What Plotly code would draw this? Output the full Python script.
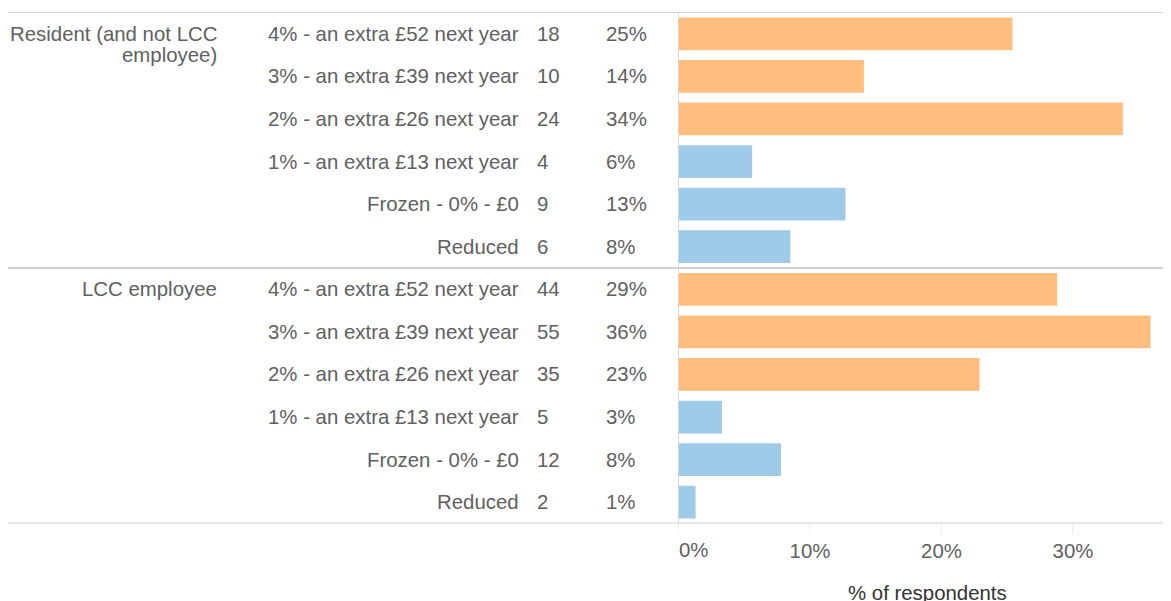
import plotly.graph_objects as go

groups = ["Resident (and not LCC employee)", "LCC employee"]
group_label_lines = [["Resident (and not LCC", "employee)"], ["LCC employee"]]
items = ["4% - an extra £52 next year", "3% - an extra £39 next year",
         "2% - an extra £26 next year", "1% - an extra £13 next year",
         "Frozen - 0% - £0", "Reduced"]
counts = [[18, 10, 24, 4, 9, 6], [44, 55, 35, 5, 12, 2]]
pct_values = [[25.4, 14.1, 33.8, 5.6, 12.7, 8.5], [28.8, 35.9, 22.9, 3.3, 7.8, 1.3]]
pct_labels = [["25%", "14%", "34%", "6%", "13%", "8%"], ["29%", "36%", "23%", "3%", "8%", "1%"]]
bar_colors_by_item = ["#FFBE7D", "#FFBE7D", "#FFBE7D", "#A0CBE8", "#A0CBE8", "#A0CBE8"]
x_ticks = [0, 10, 20, 30]
x_tick_labels = ["0%", "10%", "20%", "30%"]
axis_title = "% of respondents"

# page has an 8px body margin; figure coordinates = page - 8
W, H = 1163, 593
FONT = "Liberation Sans, Arial, sans-serif"
TXT = "#606060"
FS = 20.4

cats, xs, cols = [], [], []
for g, grp in enumerate(groups):
    for i, it in enumerate(items):
        cats.append(f"{grp}|{it}")
        xs.append(pct_values[g][i])
        cols.append(bar_colors_by_item[i])

fig = go.Figure(go.Bar(
    y=cats, x=xs, orientation="h", marker=dict(color=cols, line=dict(width=0)),
    width=0.77, hoverinfo="skip"))

x_left, x_right = 670.5 / W, 1162 / W
y_top, y_bot = 1 - 4.5 / H, 1 - 515.5 / H

fig.update_layout(
    width=W, height=H, margin=dict(l=0, r=0, t=0, b=0),
    paper_bgcolor="white", plot_bgcolor="white", showlegend=False,
    font=dict(family=FONT, size=FS, color=TXT),
    xaxis=dict(domain=[x_left, x_right], range=[0, 37.38], tickvals=x_ticks,
               ticktext=[""] + x_tick_labels[1:], ticks="outside", ticklen=9,
               tickcolor="#ececec", tickwidth=1, showgrid=False,
               zeroline=True, zerolinecolor="#d9d9d9", zerolinewidth=1,
               showline=False, tickfont=dict(size=FS, color=TXT),
               automargin=False),
    yaxis=dict(domain=[y_bot, y_top], categoryorder="array", categoryarray=cats,
               autorange=False, range=[len(cats) - 0.5, -0.5],
               showticklabels=False, showgrid=False, zeroline=False, showline=False,
               ticks="", automargin=False),
)

ann = []
for g, grp in enumerate(groups):
    for i, it in enumerate(items):
        c = f"{grp}|{it}"
        ann.append(dict(x=513 / W, xref="paper", y=c, yref="y", text=it,
                        xanchor="right", yanchor="middle", showarrow=False))
        ann.append(dict(x=526.5 / W, xref="paper", y=c, yref="y", text=str(counts[g][i]),
                        xanchor="left", yanchor="middle", showarrow=False))
        ann.append(dict(x=595.5 / W, xref="paper", y=c, yref="y", text=pct_labels[g][i],
                        xanchor="left", yanchor="middle", showarrow=False))
    for k, line in enumerate(group_label_lines[g]):
        ann.append(dict(x=211 / W, xref="paper", y=f"{grp}|{items[0]}", yref="y",
                        text=line, xanchor="right", yanchor="middle",
                        yshift=-21 * k, showarrow=False))
ann.append(dict(x=x_ticks[0], xref="x", y=y_bot, yref="paper", text=x_tick_labels[0],
                xanchor="left", yanchor="top", xshift=-1.5, yshift=-13, showarrow=False))
ann.append(dict(x=(x_left + x_right) / 2, xref="paper", y=0, yref="paper", text=axis_title,
                xanchor="center", yanchor="middle", xshift=3, yshift=8, showarrow=False,
                font=dict(size=FS, color="#333333")))
fig.update_layout(annotations=ann)

shapes = [
    dict(type="line", xref="paper", yref="paper", x0=0, x1=1162 / W, y0=y_top, y1=y_top,
         line=dict(color="#d6d6d6", width=1)),
    dict(type="line", xref="paper", yref="y", x0=0, x1=1162 / W, y0=5.5, y1=5.5,
         line=dict(color="#d0d0d0", width=2)),
    dict(type="line", xref="paper", yref="y", x0=0, x1=1162 / W, y0=11.5, y1=11.5,
         line=dict(color="#d0d0d0", width=2)),
]
fig.update_layout(shapes=shapes)

fig.write_html("out.html")
